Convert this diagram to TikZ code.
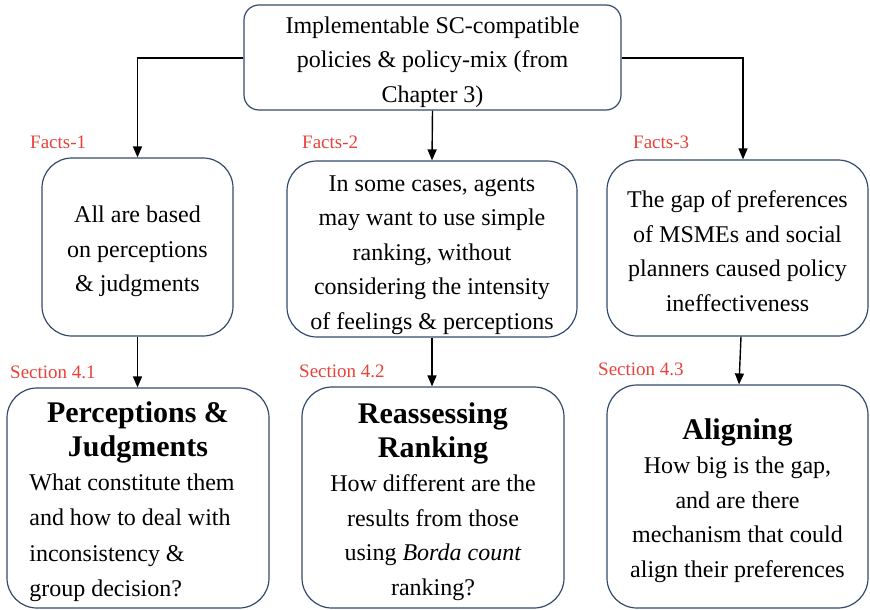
\documentclass[tikz,border=0pt]{standalone}
\usepackage{fontspec}
\setmainfont{LiberationSerif}[Extension=.ttf, UprightFont=*-Regular, BoldFont=*-Bold,
  ItalicFont=*-Italic, BoldItalicFont=*-BoldItalic]
\usetikzlibrary{arrows.meta}
\definecolor{boxline}{HTML}{34496B}
\definecolor{tagred}{HTML}{E8413A}
\tikzset{
  box/.style={draw=boxline, line width=1.2pt, rounded corners=#1, inner sep=0pt},
  box/.default=30pt,
  txt/.style={align=center, inner sep=0pt, font=\fontsize{24}{34.5}\selectfont},
  tag/.style={text=tagred, font=\fontsize{19}{22}\selectfont, inner sep=0pt},
  link/.style={line width=1.4pt, -{Triangle[length=11pt,width=9pt]}}
}
\newcommand{\headline}[1]{{\fontsize{30}{33}\selectfont\bfseries #1}}
\begin{document}
\begin{tikzpicture}[x=1pt,y=-1pt]
\useasboundingbox (0,0) rectangle (870,610);

% chapter 3 input
\node[box=15pt, minimum width=377pt, minimum height=105pt] (top) at (432.5,57.5) {};
\node[txt] (topt) at ([yshift=-4.5pt]top.center)
  {Implementable SC-compatible\\policies \& policy-mix (from\\Chapter 3)};

% facts row
\node[box, minimum width=191pt, minimum height=178pt] (f1) at (137.5,247) {};
\node[txt] (f1t) at ([yshift=-4.5pt]f1.center)
  {All are based\\on perceptions\\\& judgments};
\node[box, minimum width=290pt, minimum height=176pt] (f2) at (432,249) {};
\node[txt] (f2t) at ([yshift=-6pt]f2.center)
  {In some cases, agents\\may want to use simple\\ranking, without\\considering the intensity\\of feelings \& perceptions};
\node[box, minimum width=261pt, minimum height=176pt] (f3) at (737.5,248) {};
\node[txt] (f3t) at ([yshift=-3pt]f3.center)
  {The gap of preferences\\of MSMEs and social\\planners caused policy\\ineffectiveness};

% section row
\node[box, minimum width=262pt, minimum height=220pt] (s1) at (138,498) {};
\node[txt] (s1t) at ([yshift=-6.5pt]s1.center)
  {\headline{Perceptions \&}\\[-1pt]\headline{Judgments}\\[2pt]
   \renewcommand{\arraystretch}{1.02}%
   \hspace*{-12pt}\begin{tabular}{@{}l@{}}What constitute them\\and how to deal with\\inconsistency \&\\group decision?\end{tabular}};
\node[box, minimum width=262pt, minimum height=221pt] (s2) at (433,497.5) {};
\node[txt] (s2t) at ([yshift=-4pt]s2.center)
  {\headline{Reassessing}\\[-1pt]\headline{Ranking}\\How different are the\\results from those\\using \textit{Borda count}\\ranking?};
\node[box, minimum width=261pt, minimum height=223pt] (s3) at (737.5,496.5) {};
\node[txt] (s3t) at ([yshift=-4pt]s3.center)
  {\headline{Aligning}\\How big is the gap,\\and are there\\mechanism that could\\align their preferences};

% labels
\node[tag, anchor=west] (t1) at (30,142) {Facts-1};
\node[tag, anchor=west] (t2) at (302,142) {Facts-2};
\node[tag, anchor=west] (t3) at (633,142) {Facts-3};
\node[tag, anchor=west] (t4) at (10,372) {Section 4.1};
\node[tag, anchor=west] (t5) at (299,371) {Section 4.2};
\node[tag, anchor=west] (t6) at (598,369) {Section 4.3};

% connectors
\draw[link] (top.west |- 0,58) -| (f1.north);
\draw[link] (top.south) -- (f2.north);
\draw[link] (top.east |- 0,58) -| (743,0 |- f3.north);
\draw[link] (f1.south) -- (s1.north -| f1.south);
\draw[link] (f2.south) -- (s2.north -| f2.south);
\draw[link] (741,0 |- f3.south) -- (739,0 |- s3.north);
\end{tikzpicture}
\end{document}
